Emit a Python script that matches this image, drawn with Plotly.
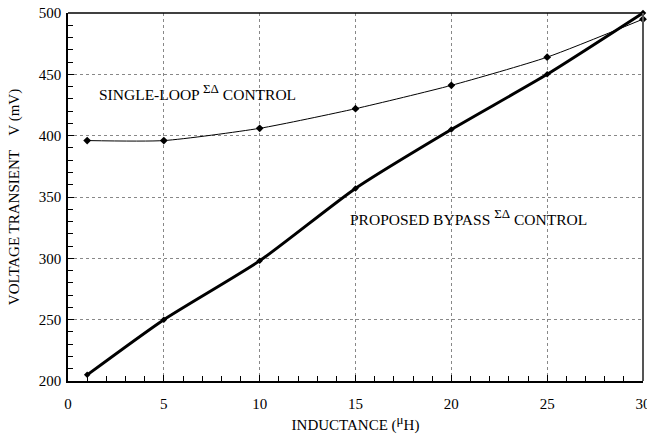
import plotly.graph_objects as go

inductance = [1, 5, 10, 15, 20, 25, 30]
single_loop = [396, 396, 406, 422, 441, 464, 495]
bypass = [205, 250, 298, 357, 405, 450, 500]

FONT = "Liberation Serif"
SUP = "<sup><span style='font-size:13px'>{}</span></sup>"

fig = go.Figure()
fig.add_trace(go.Scatter(x=inductance, y=single_loop, mode="lines+markers",
                         line=dict(color="black", width=1, shape="spline", smoothing=0.6),
                         marker=dict(symbol="diamond", size=6, color="black"),
                         showlegend=False, cliponaxis=False))
fig.add_trace(go.Scatter(x=inductance, y=bypass, mode="lines+markers",
                         line=dict(color="black", width=3, shape="spline", smoothing=0.6),
                         marker=dict(symbol="diamond", size=5, color="black"),
                         showlegend=False, cliponaxis=False))

fig.add_annotation(x=1.5, y=436, xanchor="left", yanchor="middle", showarrow=False,
                   text="SINGLE-LOOP " + SUP.format("ΣΔ") + " CONTROL",
                   font=dict(family=FONT, size=15.5, color="black"))
fig.add_annotation(x=14.6, y=334, xanchor="left", yanchor="middle", showarrow=False,
                   text="PROPOSED BYPASS " + SUP.format("ΣΔ") + " CONTROL",
                   font=dict(family=FONT, size=15.5, color="black"))

# top and right frame lines
fig.add_shape(type="line", xref="paper", yref="paper", x0=0, x1=1, y0=1, y1=1,
              line=dict(color="black", width=1.5), layer="above")
fig.add_shape(type="line", xref="paper", yref="paper", x0=1, x1=1, y0=0, y1=1,
              line=dict(color="#555", width=2), layer="above")

fig.update_layout(
    width=647, height=435,
    margin=dict(l=68, r=4, t=13, b=54),
    plot_bgcolor="white", paper_bgcolor="white",
    font=dict(family=FONT, size=15, color="black"),
    xaxis=dict(range=[0, 30], tick0=0, dtick=5, automargin=False,
               showgrid=True, gridcolor="#888", griddash="dot", gridwidth=1,
               showline=True, linecolor="black", linewidth=1.5,
               ticks="inside", ticklen=6, tickwidth=1.3, tickcolor="black",
               ticklabeloverflow="allow", ticklabelstandoff=8,
               minor=dict(dtick=1, ticks="inside", ticklen=5, tickwidth=1.3,
                          tickcolor="black", showgrid=False),
               title=dict(text="INDUCTANCE (" + SUP.format("μ") + "H)", standoff=3,
                          font=dict(family=FONT, size=15)),
               zeroline=False, tickfont=dict(family=FONT, size=15)),
    yaxis=dict(range=[200, 500], tick0=200, dtick=50, automargin=False,
               showgrid=True, gridcolor="#888", griddash="dot", gridwidth=1,
               showline=True, linecolor="black", linewidth=1.5,
               ticks="inside", ticklen=6, tickwidth=1.3, tickcolor="black",
               ticklabelstandoff=2,
               minor=dict(dtick=10, ticks="inside", ticklen=5, tickwidth=1.3,
                          tickcolor="black", showgrid=False),
               title=dict(text="VOLTAGE TRANSIENT    V (mV)", standoff=16,
                          font=dict(family=FONT, size=15)),
               zeroline=False, tickfont=dict(family=FONT, size=15)),
)

fig.write_html("out.html")
